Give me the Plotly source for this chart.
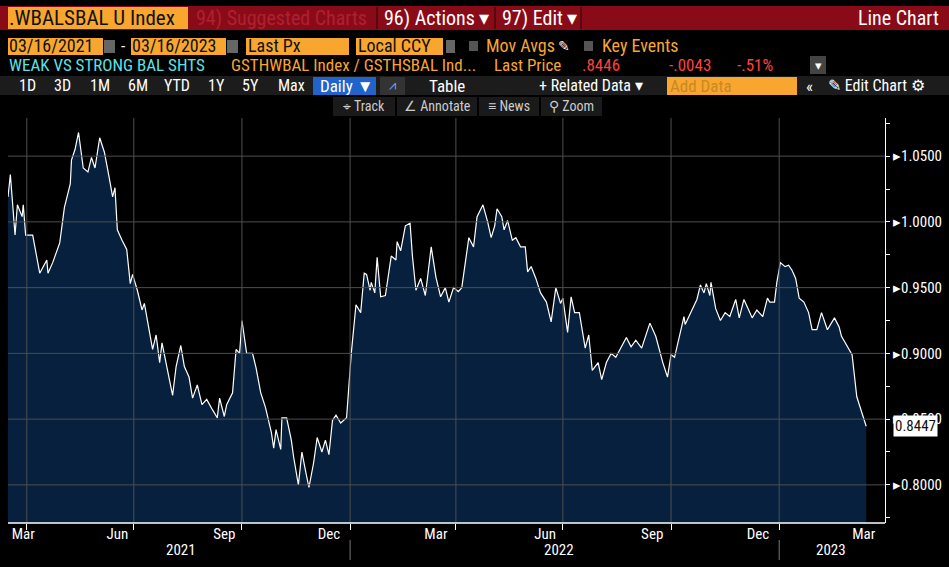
import pandas as pd
import plotly.graph_objects as go

start = pd.Timestamp("2021-03-16")
day_offset = [0,2,6,8,12,13,15,21,27,33,34,38,44,48,53,54,57,60,64,68,71,74,78,82,86,89,91,93,97,101,104,106,110,114,116,119,123,126,129,131,136,140,143,147,150,154,157,161,165,169,174,178,180,184,186,191,194,197,199,203,208,211,215,219,224,226,228,232,233,237,241,243,247,250,253,256,260,263,267,270,273,276,279,283,288,292,296,300,303,305,308,309,312,314,317,321,324,326,330,331,334,338,342,344,347,351,355,360,364,368,372,375,379,383,386,389,392,396,399,404,408,411,414,416,420,422,425,429,432,436,440,442,445,449,453,458,462,466,470,472,476,479,482,486,491,494,497,502,505,509,513,517,521,526,530,534,539,546,551,557,561,564,567,571,575,576,582,586,589,592,594,597,598,602,606,610,614,619,622,626,631,633,637,642,646,648,652,654,657,661,664,667,670,673,677,681,684,688,692,697,703,707,709,714,718,722,730]
ratio = [1.019,1.036,0.990,1.013,1.004,1.013,0.990,0.990,0.961,0.971,0.961,0.969,0.984,1.011,1.029,1.047,1.055,1.068,1.041,1.038,1.049,1.041,1.064,1.053,1.034,1.019,1.026,0.994,0.986,0.979,0.953,0.960,0.948,0.933,0.938,0.924,0.903,0.914,0.893,0.908,0.885,0.868,0.890,0.906,0.890,0.882,0.866,0.876,0.861,0.865,0.857,0.851,0.866,0.852,0.861,0.870,0.903,0.900,0.925,0.900,0.900,0.889,0.870,0.859,0.840,0.828,0.842,0.827,0.851,0.851,0.834,0.821,0.800,0.825,0.811,0.798,0.817,0.836,0.825,0.834,0.823,0.849,0.853,0.847,0.851,0.900,0.937,0.931,0.961,0.960,0.948,0.954,0.946,0.973,0.943,0.944,0.962,0.974,0.971,0.985,0.978,0.997,0.999,0.974,0.948,0.957,0.944,0.981,0.958,0.943,0.950,0.939,0.950,0.947,0.950,0.969,0.988,0.981,1.004,1.013,1.000,0.988,0.997,1.010,1.004,0.994,1.001,0.986,0.988,0.981,0.981,0.962,0.966,0.957,0.946,0.939,0.924,0.950,0.938,0.942,0.916,0.943,0.931,0.931,0.904,0.914,0.887,0.893,0.880,0.893,0.900,0.897,0.904,0.912,0.905,0.910,0.904,0.923,0.913,0.893,0.882,0.899,0.897,0.912,0.928,0.922,0.934,0.941,0.952,0.946,0.953,0.944,0.954,0.934,0.925,0.931,0.928,0.941,0.927,0.941,0.931,0.927,0.933,0.928,0.942,0.939,0.939,0.954,0.969,0.966,0.967,0.963,0.957,0.942,0.939,0.931,0.918,0.918,0.931,0.918,0.927,0.920,0.913,0.905,0.899,0.867,0.8446]
dates = [start + pd.Timedelta(days=d) for d in day_offset]

month_label_dates = ["2021-03-29","2021-06-17","2021-09-16","2021-12-14","2022-03-15","2022-06-16","2022-09-15","2022-12-14","2023-03-14"]
month_labels = ["Mar","Jun","Sep","Dec","Mar","Jun","Sep","Dec","Mar"]
quarter_grid = ["2021-04-01","2021-07-01","2021-10-01","2022-01-01","2022-04-01","2022-07-01","2022-10-01","2023-01-01"]
year_labels = ["2021","2022","2023"]
year_label_dates = ["2021-08-10","2022-06-28","2023-02-14"]
year_bounds = ["2022-01-01","2023-01-01"]
y_ticks = [0.80,0.85,0.90,0.95,1.00,1.05]
last_value = 0.8447

W, H = 949, 567
L, R, T, B = 8, 885, 118, 523
def px(x): return (x - L) / (R - L)
def py(y): return (B - y) / (B - T)

NARROW = "Liberation Sans Narrow, Roboto Condensed, Arial Narrow, sans-serif"
GRID = "#4e4e4e"

fig = go.Figure()
fig.add_trace(go.Scatter(x=dates, y=ratio, mode="lines", line=dict(color="white", width=1.2),
                         fill="tozeroy", fillcolor="#06203d", hoverinfo="skip"))

shapes, ann = [], []
for d in quarter_grid:
    shapes.append(dict(type="line", xref="x", yref="paper", x0=d, x1=d, y0=0, y1=1,
                       line=dict(color=GRID, width=1), layer="above"))
for v in y_ticks:
    shapes.append(dict(type="line", xref="paper", yref="y", x0=0, x1=1, y0=v, y1=v,
                       line=dict(color=GRID, width=1), layer="above"))

def box(x0, y0, x1, y1, color):
    shapes.append(dict(type="rect", xref="paper", yref="paper", x0=px(x0), x1=px(x1), y0=py(y1), y1=py(y0),
                       fillcolor=color, line=dict(width=0), layer="above"))
def text(x, y, s, color, size=17, anchor="left"):
    ann.append(dict(xref="paper", yref="paper", x=px(x), y=py(y), text=s, showarrow=False, xanchor=anchor,
                    yanchor="middle", font=dict(color=color, size=size, family=NARROW)))

ORANGE = "#f8a630"
# row 1
box(0, 6, 949, 30, "#8a0b18")
box(8, 7, 188, 29, ORANGE)
text(7, 18, ".WBALSBAL U Index", "#111", 21)
text(194, 18, "94) Suggested Charts", "#b02030", 20)
box(376, 7, 378, 29, "#5a0810"); box(494, 7, 496, 29, "#5a0810"); box(580, 7, 582, 29, "#5a0810")
text(382, 18, "96) Actions ▾", "white", 20)
text(500, 18, "97) Edit ▾", "white", 20)
text(941, 18, "Line Chart", "white", 20, "right")
# row 2
box(8, 38, 103, 55, ORANGE); text(7, 46, "03/16/2021", "#111", 18)
box(104, 40, 115, 53, "#666"); text(119, 46, "-", "white", 17)
box(131, 38, 226, 55, ORANGE); text(130, 46, "03/16/2023", "#111", 18)
box(227, 40, 238, 53, "#666")
box(246, 38, 349, 55, ORANGE); text(246, 46, "Last Px", "#111", 18)
box(356, 38, 443, 55, ORANGE); text(356, 46, "Local CCY", "#111", 18)
box(446, 40, 455, 53, "#666")
box(469, 41, 478, 51, "#555"); text(484, 46, "Mov Avgs", ORANGE, 18)
text(556, 46, "✎", "white", 14)
box(584, 41, 593, 51, "#555"); text(600, 46, "Key Events", ORANGE, 18)
# row 3
text(7, 65, "WEAK VS STRONG BAL SHTS", "#5fe0e6", 17)
text(229, 65, "GSTHWBAL Index / GSTHSBAL Ind...", ORANGE, 17)
text(492, 65, "Last Price", ORANGE, 17)
text(580, 65, ".8446", "#ff4040", 17)
text(667, 65, "-.0043", "#ff4040", 17)
text(735, 65, "-.51%", "#ff4040", 17)
box(810, 56, 826, 74, "#444"); text(818, 65, "▾", "white", 13, "center")
# row 4
box(0, 76, 949, 95, "#1c1c1c")
for lbl, x in [("1D", 17), ("3D", 52), ("1M", 88), ("6M", 126), ("YTD", 162), ("1Y", 206), ("5Y", 240), ("Max", 276)]:
    text(x, 86, lbl, "white", 16)
box(313, 77, 376, 95, "#2063c9"); text(318, 86, "Daily ▼", "white", 17)
box(380, 77, 405, 95, "#333"); text(392, 86, "⩘", "#6aa8ff", 13, "center")
text(427, 86, "Table", "white", 17)
text(537, 86, "+ Related Data ▾", "white", 16)
box(667, 77, 797, 95, ORANGE); text(668, 86, "Add Data", "#c98a20", 17)
text(804, 86, "«", "white", 17)
text(826, 86, "✎ Edit Chart ⚙", "white", 16)
# row 5
for x0, x1, lbl in [(333, 395, "⌖ Track"), (397, 477, "∠ Annotate"), (479, 539, "≡ News"), (541, 602, "⚲ Zoom")]:
    box(x0, 97, x1, 116, "#1a1a1a")
    text((x0 + x1) / 2, 106, lbl, "#cccccc", 14, "center")

# bottom strip
shapes.append(dict(type="line", xref="paper", yref="paper", x0=0, x1=1, y0=0, y1=0, line=dict(color="white", width=1.5)))
for d in year_bounds:
    shapes.append(dict(type="line", xref="x", yref="paper", x0=d, x1=d, y0=py(540), y1=py(560), line=dict(color="#777", width=1)))
for d, s in zip(year_label_dates, year_labels):
    ann.append(dict(xref="x", yref="paper", x=d, y=py(550), text=s, showarrow=False, xanchor="center", yanchor="middle",
                    font=dict(color="white", size=15, family=NARROW)))
# last value tag
ann.append(dict(xref="paper", yref="y", x=px(893), y=last_value, text="%.4f" % last_value, showarrow=False, xanchor="left",
                bgcolor="white", font=dict(color="#111", size=15, family=NARROW), borderpad=1))

fig.update_layout(
    width=W, height=H, paper_bgcolor="black", plot_bgcolor="black",
    margin=dict(l=L, r=W - R, t=T, b=H - B), showlegend=False,
    shapes=shapes, annotations=ann,
    xaxis=dict(range=["2021-03-16", "2023-04-01"], tickvals=month_label_dates, ticktext=month_labels,
               ticklen=0, showgrid=False, zeroline=False, tickfont=dict(color="white", size=15, family=NARROW),
               minor=dict(tickvals=quarter_grid, showgrid=False, ticks="outside", ticklen=6, tickcolor="white"),
               fixedrange=True),
    yaxis=dict(side="right", range=[0.771, 1.079], tickvals=y_ticks, ticktext=["▸%.4f" % v for v in y_ticks],
               showgrid=False, zeroline=False, ticks="outside", ticklen=4, tickcolor="white",
               showline=True, linecolor="white", tickfont=dict(color="white", size=15, family=NARROW),
               minor=dict(dtick=0.05, tick0=0.775, ticks="outside", ticklen=4, tickcolor="white")),
)
fig.write_html("out.html", config={"displayModeBar": False})
with open("out.html") as f:
    html = f.read()
html = html.replace("<head>", "<head><style>html,body{margin:0;padding:0;background:black;}</style>", 1)
with open("out.html", "w") as f:
    f.write(html)
